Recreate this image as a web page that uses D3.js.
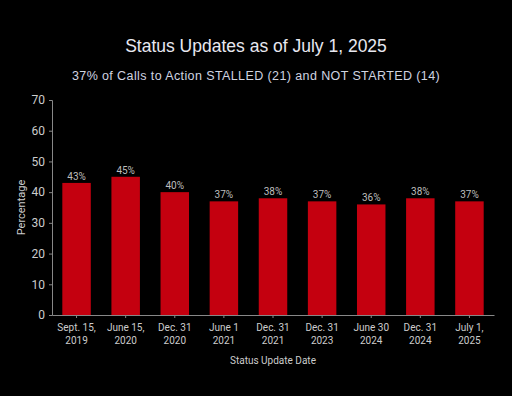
<!DOCTYPE html>
<html><head><meta charset="utf-8">
<script src="https://cdn.jsdelivr.net/npm/d3@7"></script>
<style>body{margin:0;background:#000;}svg{display:block;}</style>
</head><body>
<script>
const categories = [["Sept. 15,","2019"],["June 15,","2020"],["Dec. 31","2020"],["June 1","2021"],["Dec. 31","2021"],["Dec. 31","2023"],["June 30","2024"],["Dec. 31","2024"],["July 1,","2025"]];
const values = [43,45,40,37,38,37,36,38,37];
const yTicks = [0,10,20,30,40,50,60,70];

const W=512,H=396;
const m={left:52,right:18,top:100,bottom:81};
const svg=d3.select("body").append("svg").attr("width",W).attr("height",H).style("background","#000");
const x=d3.scaleBand().domain(d3.range(values.length)).range([m.left,W-m.right]).paddingInner(0.42).paddingOuter(0.21);
const y=d3.scaleLinear().domain([0,70]).range([H-m.bottom,m.top]);

svg.append("text").attr("x",256).attr("y",52).attr("text-anchor","middle")
 .attr("font-family","Liberation Sans, Arial, sans-serif").attr("font-size",17.5).attr("fill","#e8e8f0")
 .text("Status Updates as of July 1, 2025");
svg.append("text").attr("x",256).attr("y",80).attr("text-anchor","middle")
 .attr("font-family","Liberation Sans, Arial, sans-serif").attr("font-size",12.5).attr("letter-spacing","0.4").attr("fill","#d0d4e0")
 .text("37% of Calls to Action STALLED (21) and NOT STARTED (14)");

svg.selectAll("rect.bar").data(values).join("rect").attr("class","bar")
 .attr("x",(d,i)=>x(i)).attr("width",x.bandwidth()).attr("y",d=>y(d)).attr("height",d=>y(0)-y(d)).attr("fill","#c4000f");

svg.selectAll("text.val").data(values).join("text").attr("class","val")
 .attr("x",(d,i)=>x(i)+x.bandwidth()/2).attr("y",d=>y(d)-3).attr("text-anchor","middle")
 .attr("font-family","Roboto, sans-serif").attr("font-size",10).attr("fill","#bdbdbd").text(d=>d+"%");

const ya=svg.append("g").attr("transform",`translate(${m.left},0)`).call(d3.axisLeft(y).tickValues(yTicks).tickSize(3).tickPadding(4));
ya.select(".domain").attr("stroke","#888");
ya.selectAll(".tick line").attr("stroke","#888");
ya.selectAll(".tick text").attr("fill","#ccc").attr("font-family","Roboto, sans-serif").attr("font-size",12);

const xa=svg.append("g").attr("transform",`translate(0,${y(0)})`).call(d3.axisBottom(x).tickSize(3).tickSizeOuter(0).tickFormat(""));
xa.select(".domain").attr("stroke","#888");
xa.selectAll(".tick line").attr("stroke","#888");
xa.selectAll(".tick").each(function(d){
  const t=d3.select(this).append("text").attr("fill","#ccc").attr("font-family","Roboto, sans-serif").attr("font-size",10).attr("text-anchor","middle");
  t.append("tspan").attr("x",0).attr("y",16).text(categories[d][0]);
  t.append("tspan").attr("x",0).attr("y",28.5).text(categories[d][1]);
});

svg.append("text").attr("x",(m.left+W-m.right)/2).attr("y",364).attr("text-anchor","middle")
 .attr("font-family","Roboto, sans-serif").attr("font-size",10).attr("fill","#ccc").text("Status Update Date");
svg.append("text").attr("transform",`translate(25,${(m.top+H-m.bottom)/2}) rotate(-90)`).attr("text-anchor","middle")
 .attr("font-family","Roboto, sans-serif").attr("font-size",11).attr("fill","#ccc").text("Percentage");
</script>
</body></html>
